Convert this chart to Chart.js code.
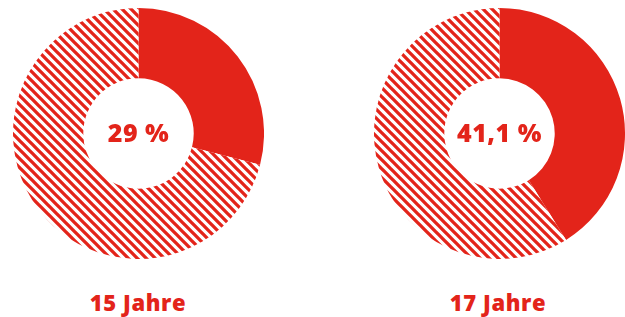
<!DOCTYPE html>
<html>
<head>
<meta charset="utf-8">
<script src="https://cdn.jsdelivr.net/npm/chart.js@4"></script>
<style>
    body { margin: 0; width: 625px; height: 317px; background: #fff; position: relative; overflow: hidden; }
    .ring { position: absolute; top: 8px; width: 251px; height: 251px; }
    .label { position: absolute; top: 287px; width: 200px; text-align: center; color: #e3241a;
             font-family: "Open Sans", sans-serif; font-weight: 800; font-size: 22px; letter-spacing: 0.6px; }
</style>
</head>
<body>
<div class="ring" style="left: 13px"><canvas id="chart-15"></canvas></div>
<div class="ring" style="left: 374px"><canvas id="chart-17"></canvas></div>
<div class="label" id="label-0" style="left: 38px"></div>
<div class="label" id="label-1" style="left: 398px"></div>

<script>
const ages = ["15 Jahre", "17 Jahre"]
const shares = [29, 41.1]
const shareLabels = ["29 %", "41,1 %"]
const chartIds = ["chart-15", "chart-17"]

const red = "#e3241a"

// Diagonal red/white stripes for the remaining part of the ring
const makeStripes = () => {
    const size = 9
    const tile = document.createElement("canvas")
    tile.width = size
    tile.height = size
    const ctx = tile.getContext("2d")
    ctx.fillStyle = "#fff"
    ctx.fillRect(0, 0, size, size)
    ctx.strokeStyle = red
    ctx.lineWidth = 3.3
    ctx.beginPath()
    ctx.moveTo(-1, -1); ctx.lineTo(size + 1, size + 1)
    ctx.moveTo(size - 3, -3); ctx.lineTo(size + 3, 3)
    ctx.moveTo(-3, size - 3); ctx.lineTo(3, size + 3)
    ctx.stroke()
    return ctx.createPattern(tile, "repeat")
}

// Write the percentage in the hole of the doughnut
const centerText = {
    id: "centerText",
    afterDraw: (chart, args, opts) => {
        const meta = chart.getDatasetMeta(0).data[0]
        const ctx = chart.ctx
        ctx.save()
        ctx.fillStyle = red
        ctx.font = "800 25px 'Open Sans', sans-serif"
        ctx.letterSpacing = "0.5px"
        ctx.textAlign = "center"
        ctx.textBaseline = "middle"
        ctx.fillText(opts.text, meta.x, meta.y + 1)
        ctx.restore()
    }
}

const stripes = makeStripes()

for (let i = 0; i < shares.length; i++) {
    document.getElementById("label-" + i).innerText = ages[i]

    new Chart(document.getElementById(chartIds[i]), {
        type: "doughnut",
        data: {
            labels: ["Anteil", "Rest"],
            datasets: [{
                data: [shares[i], 100 - shares[i]],
                backgroundColor: [red, stripes],
                borderWidth: 0
            }]
        },
        options: {
            responsive: true,
            maintainAspectRatio: false,
            animation: false,
            cutout: "44%",
            plugins: {
                legend: { display: false },
                tooltip: { enabled: false },
                centerText: { text: shareLabels[i] }
            }
        },
        plugins: [centerText]
    })
}
</script>
</body>
</html>
